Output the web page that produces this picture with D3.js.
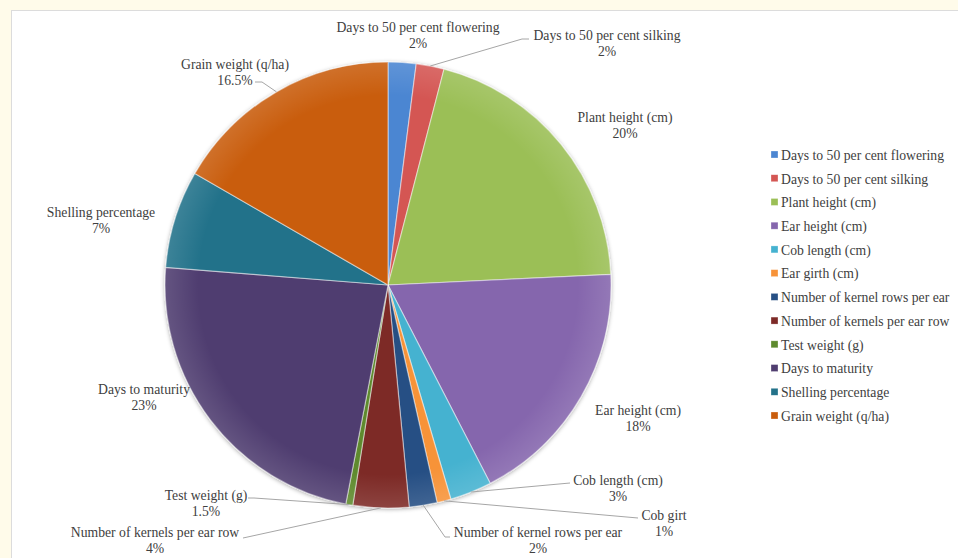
<!DOCTYPE html>
<html>
<head>
<meta charset="utf-8">
<script src="https://cdn.jsdelivr.net/npm/d3@7/dist/d3.min.js"></script>
<style>
  body { margin: 0; background: #fffbea; }
  svg { display: block; }
  text { font-family: "Liberation Serif", "Times New Roman", serif; fill: #404040; }
</style>
</head>
<body>
<script>
// traits and their share of the total
var traits = ["Days to 50 per cent flowering", "Days to 50 per cent silking", "Plant height (cm)",
  "Ear height (cm)", "Cob length (cm)", "Ear girth (cm)", "Number of kernel rows per ear",
  "Number of kernels per ear row", "Test weight (g)", "Days to maturity",
  "Shelling percentage", "Grain weight (q/ha)"];
var shares = [2, 2, 20, 18, 3, 1, 2, 4, 0.5, 23, 7, 16.5];

// text of the data labels as printed on the chart
var labelNames = ["Days to 50 per cent flowering", "Days to 50 per cent silking", "Plant height (cm)",
  "Ear height (cm)", "Cob length (cm)", "Cob girt", "Number of kernel rows per ear",
  "Number of kernels per ear row", "Test weight (g)", "Days to maturity",
  "Shelling percentage", "Grain weight (q/ha)"];
var labelPcts = ["2%", "2%", "20%", "18%", "3%", "1%", "2%", "4%", "1.5%", "23%", "7%", "16.5%"];

var colors = ["#4c86d2", "#d45653", "#9bbf56", "#8566ad", "#45b2d0", "#f79339",
  "#275084", "#7d2a27", "#5e8a2e", "#503e70", "#23728a", "#c95d0e"];

window.onload = function() {

  var width = 958, height = 558;
  var cx = 388, cy = 285, radius = 223;

  var svg = d3.select("body").append("svg")
    .attr("width", width)
    .attr("height", height);

  // white chart panel on the cream page
  svg.append("rect")
    .attr("x", 11.5).attr("y", 10.5)
    .attr("width", width).attr("height", height)
    .attr("fill", "#fff")
    .attr("stroke", "#dcdcdc");

  var defs = svg.append("defs");
  var shadow = defs.append("filter").attr("id", "shadow")
    .attr("x", "-10%").attr("y", "-10%").attr("width", "120%").attr("height", "120%");
  shadow.append("feDropShadow")
    .attr("dx", 0).attr("dy", 1).attr("stdDeviation", 2)
    .attr("flood-color", "#000").attr("flood-opacity", 0.35);

  var pie = d3.pie().sort(null).value(function(d) { return d; });
  var arcs = pie(shares);

  var arc = d3.arc().innerRadius(0).outerRadius(radius);

  var g = svg.append("g")
    .attr("transform", "translate(" + cx + "," + cy + ")");

  // slices
  g.append("g").attr("filter", "url(#shadow)")
    .selectAll("path.slice")
    .data(arcs)
    .enter().append("path")
      .attr("class", "slice")
      .attr("d", arc)
      .attr("fill", function(d, i) { return colors[i]; })
      .attr("stroke", "rgba(255,255,255,0.45)")
      .attr("stroke-width", 1.2);

  // soft light on the slices, like the bevel in the original
  var glow = defs.append("radialGradient").attr("id", "glow")
    .attr("cx", "50%").attr("cy", "50%").attr("r", "50%");
  glow.append("stop").attr("offset", "85%").attr("stop-color", "#fff").attr("stop-opacity", 0);
  glow.append("stop").attr("offset", "100%").attr("stop-color", "#fff").attr("stop-opacity", 0.12);
  g.append("circle").attr("r", radius).attr("fill", "url(#glow)").style("pointer-events", "none");

  // label placement: label centre relative to pie centre, and leader end (if any)
  var labelPos = [
    { x: 30, y: -250 },
    { x: 219, y: -242, lead: [[134, -246], [141, -246]] },
    { x: 237, y: -160 },
    { x: 250, y: 133 },
    { x: 230, y: 203, lead: [[182, 198], [182, 198]] },
    { x: 276, y: 238, lead: [[250, 233], [250, 233]] },
    { x: 150, y: 255, lead: [[57, 252], [62, 252]] },
    { x: -233, y: 255, lead: [[-145, 253], [-145, 253]] },
    { x: -182, y: 218, lead: [[-134, 213], [-140, 213]] },
    { x: -244, y: 112 },
    { x: -287, y: -65 },
    { x: -153, y: -213, lead: [[-126, -203], [-133, -203]] }
  ];

  // leader lines from the slice edge to the label
  arcs.forEach(function(d, i) {
    var p = labelPos[i];
    if (!p.lead) return;
    var mid = (d.startAngle + d.endAngle) / 2;
    var start = [Math.sin(mid) * radius, -Math.cos(mid) * radius];
    g.append("polyline")
      .attr("points", [start, p.lead[0], p.lead[1]].map(function(q) { return q.join(","); }).join(" "))
      .attr("fill", "none")
      .attr("stroke", "#a6a6a6")
      .attr("stroke-width", 1);
  });

  // data labels
  var labels = g.selectAll("text.label")
    .data(arcs)
    .enter().append("text")
      .attr("class", "label")
      .attr("text-anchor", "middle")
      .style("font-size", "13.7px")
      .attr("transform", function(d, i) {
        return "translate(" + labelPos[i].x + "," + labelPos[i].y + ")";
      });

  labels.append("tspan")
    .attr("x", 0).attr("dy", "-0.25em")
    .text(function(d, i) { return labelNames[i]; });
  labels.append("tspan")
    .attr("x", 0).attr("dy", "1.17em")
    .text(function(d, i) { return labelPcts[i]; });

  // legend
  var legendY = d3.scalePoint()
    .domain(traits)
    .range([155, 416]);

  var legend = svg.selectAll(".legend")
    .data(traits)
    .enter().append("g")
      .attr("class", "legend")
      .attr("transform", function(d) { return "translate(771," + legendY(d) + ")"; });

  legend.append("rect")
    .attr("x", 0).attr("y", -4)
    .attr("width", 7).attr("height", 7)
    .attr("fill", function(d, i) { return colors[i]; })
    .attr("stroke", "rgba(255,255,255,0.5)")
    .attr("stroke-width", 0.6);

  legend.append("text")
    .attr("x", 10)
    .attr("dy", "0.35em")
    .style("font-size", "13.7px")
    .text(function(d) { return d; });
};
</script>
</body>
</html>
